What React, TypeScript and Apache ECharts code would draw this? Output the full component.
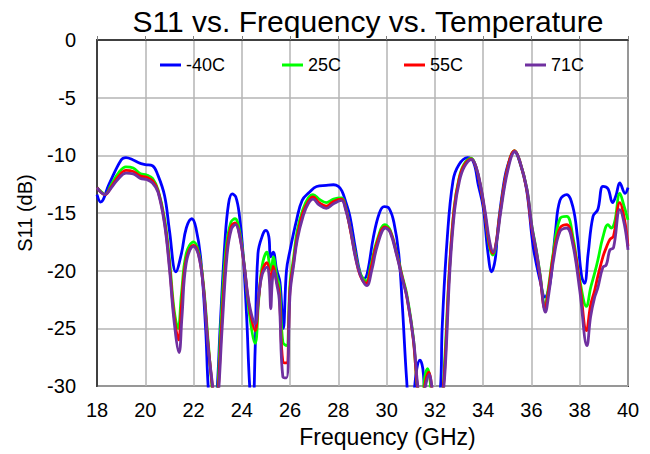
import React, { useEffect, useRef } from "react";
import * as echarts from "echarts";

const seriesNames = ["-40C", "25C", "55C", "71C"];
const seriesColors = ["#0000ff", "#00ff00", "#ff0000", "#7030a0"];
const legendLefts = [155, 277, 399, 520];
const xTicks = [18, 20, 22, 24, 26, 28, 30, 32, 34, 36, 38, 40];

const blueFreq = [18, 18.15, 18.5, 19.0, 19.2, 19.5, 19.8, 20.0, 20.3, 20.5, 20.8, 21.0, 21.27, 21.5, 21.7, 21.93, 22.1, 22.3, 22.5, 22.62, 22.8, 22.97, 23.1, 23.3, 23.45, 23.6, 23.75, 23.9, 24.05, 24.2, 24.34, 24.45, 24.55, 24.67, 24.88, 25.0, 25.12, 25.19, 25.3, 25.44, 25.58, 25.72, 25.85, 26.0, 26.27, 26.5, 26.8, 27.1, 27.5, 27.8, 28.0, 28.15, 28.3, 28.48, 28.7, 28.9, 29.05, 29.2, 29.45, 29.7, 29.9, 30.1, 30.3, 30.5, 30.65, 30.83, 30.95, 31.1, 31.25, 31.38, 31.5, 31.6, 31.8, 32.0, 32.22, 32.3, 32.5, 32.75, 33.0, 33.35, 33.6, 33.8, 34.0, 34.2, 34.35, 34.5, 34.6, 34.8, 35.0, 35.3, 35.5, 35.8, 36.07, 36.35, 36.56, 36.77, 37.0, 37.18, 37.46, 37.72, 37.9, 38.08, 38.2, 38.35, 38.55, 38.75, 38.96, 39.17, 39.36, 39.5, 39.66, 39.88, 40.0];
const blueS11 = [-13.4, -14.05, -12.5, -10.4, -10.2, -10.4, -10.7, -10.8, -10.9, -11.6, -13.5, -16.5, -20.1, -18.5, -16.3, -15.5, -16.3, -19.0, -25, -30.5, -34, -30.5, -25, -17.5, -14.2, -13.35, -13.6, -15.2, -18.5, -24, -30.5, -32, -27, -18.5, -16.8, -16.5, -17.05, -18.8, -18.4, -19.9, -21.0, -25.0, -20, -18.2, -15.6, -13.9, -13.2, -12.7, -12.6, -12.55, -12.7, -13.1, -14, -15.3, -18, -20.2, -20.7, -20.2, -17.1, -15.0, -14.45, -14.6, -15.8, -18.5, -23, -29.5, -32, -31, -28.5, -27.75, -28.5, -31, -33, -33, -30.5, -25, -17.5, -12.2, -10.8, -10.2, -10.6, -12.6, -14.5, -18.5, -20.1, -19, -16.5, -13.2, -11.0, -9.7, -10.5, -13.0, -17.9, -20.8, -22.3, -21.1, -16.5, -13.9, -13.4, -14.5, -17, -20.5, -21.1, -18.5, -15.3, -14.7, -12.7, -12.9, -14.1, -13.5, -12.4, -13.3, -12.8];

const greenFreq = [18, 18.15, 18.33, 18.6, 18.9, 19.2, 19.5, 19.8, 20.06, 20.3, 20.53, 20.8, 21.0, 21.2, 21.36, 21.5, 21.7, 22.0, 22.2, 22.4, 22.6, 22.78, 22.9, 23.0, 23.15, 23.35, 23.55, 23.72, 23.9, 24.1, 24.3, 24.55, 24.7, 24.85, 25.04, 25.15, 25.22, 25.3, 25.45, 25.55, 25.7, 25.85, 26.0, 26.13, 26.3, 26.53, 26.75, 26.95, 27.2, 27.5, 27.8, 28.13, 28.3, 28.48, 28.7, 28.9, 29.15, 29.35, 29.6, 29.93, 30.15, 30.42, 30.65, 30.83, 31.1, 31.3, 31.45, 31.6, 31.7, 31.8, 31.9, 32.1, 32.3, 32.4, 32.6, 32.8, 33.0, 33.2, 33.5, 33.7, 33.9, 34.07, 34.25, 34.4, 34.55, 34.7, 35.0, 35.3, 35.5, 35.8, 36.0, 36.2, 36.35, 36.56, 36.7, 36.9, 37.18, 37.46, 37.72, 38.0, 38.28, 38.45, 38.62, 38.75, 38.96, 39.17, 39.3, 39.45, 39.66, 39.85, 40];
const greenS11 = [-12.8, -13.1, -13.4, -12.5, -11.5, -11.0, -11.1, -11.6, -11.7, -12.0, -13.0, -15.5, -19, -23.5, -25.0, -22, -18.5, -17.5, -18.3, -21, -26, -30.5, -33, -30.5, -24, -18, -15.8, -15.5, -16.5, -19.5, -23.5, -26.3, -22.5, -19.5, -18.4, -19.5, -20, -18.8, -20.5, -21.3, -26.2, -26.5, -21, -19.1, -16.5, -14.7, -13.7, -13.4, -13.8, -14.1, -13.8, -13.7, -14.5, -16.2, -18.5, -20.2, -20.9, -19.5, -17.4, -16.0, -16.5, -18.5, -20.5, -22, -25.7, -30.5, -31, -29, -28.5, -29.5, -32, -33, -31, -28, -20, -14.5, -12, -10.8, -10.25, -11, -12.8, -15.0, -17.8, -18.65, -17.5, -15, -11.2, -9.6, -10.4, -12.8, -15.9, -18.2, -20.2, -23.0, -21.5, -18.5, -15.5, -15.3, -17.1, -20.8, -23.1, -21.5, -20.2, -19.1, -17.1, -16.0, -16.3, -15.75, -13.3, -14.5, -15.6];

const redFreq = [18, 18.33, 18.6, 18.9, 19.2, 19.5, 19.8, 20.06, 20.3, 20.53, 20.8, 21.0, 21.2, 21.38, 21.5, 21.7, 22.0, 22.2, 22.4, 22.6, 22.8, 22.92, 23.02, 23.17, 23.37, 23.55, 23.72, 23.9, 24.1, 24.3, 24.55, 24.7, 24.85, 25.04, 25.15, 25.22, 25.3, 25.45, 25.55, 25.7, 25.85, 26.0, 26.15, 26.3, 26.53, 26.75, 26.95, 27.2, 27.5, 27.8, 28.13, 28.3, 28.48, 28.7, 28.9, 29.15, 29.35, 29.6, 29.93, 30.15, 30.42, 30.65, 30.83, 31.1, 31.3, 31.45, 31.62, 31.75, 31.85, 31.95, 32.1, 32.3, 32.42, 32.6, 32.8, 33.0, 33.2, 33.5, 33.7, 33.9, 34.07, 34.25, 34.4, 34.55, 34.7, 35.0, 35.3, 35.5, 35.8, 36.0, 36.2, 36.35, 36.56, 36.7, 36.9, 37.18, 37.46, 37.72, 38.0, 38.28, 38.45, 38.62, 38.75, 38.96, 39.1, 39.25, 39.4, 39.66, 39.85, 40];
const redS11 = [-12.8, -13.4, -12.7, -11.8, -11.3, -11.4, -11.8, -11.9, -12.2, -13.1, -15.8, -19.5, -24, -26.0, -23, -19, -17.8, -18.5, -21.2, -26.3, -30.5, -33, -30.5, -24.5, -18.4, -16.2, -15.85, -16.8, -19.6, -23, -25.2, -22.3, -20, -19.3, -20.3, -21, -19.6, -21.0, -22, -27.9, -28, -21.5, -19.2, -17, -15, -14, -13.6, -14.1, -14.4, -14.0, -13.8, -14.6, -16.3, -18.7, -20.4, -21.1, -19.8, -17.6, -16.2, -16.6, -18.6, -20.6, -22.2, -25.9, -30.5, -31.5, -29.5, -28.8, -29.8, -32, -33, -31, -28, -20, -14.6, -12.1, -10.9, -10.3, -11, -12.8, -15.0, -17.6, -18.5, -17.4, -15, -11.2, -9.6, -10.4, -12.9, -16.1, -18.4, -20.4, -23.3, -21.8, -18.8, -16.3, -16.0, -17.5, -21.1, -25.2, -23, -21.7, -20.5, -18.8, -18.0, -17.3, -17.0, -14.1, -15.5, -17.9];

const purpleFreq = [18, 18.33, 18.6, 18.9, 19.2, 19.5, 19.8, 20.06, 20.3, 20.53, 20.8, 21.0, 21.2, 21.4, 21.52, 21.7, 22.0, 22.2, 22.4, 22.6, 22.82, 22.94, 23.04, 23.19, 23.39, 23.57, 23.74, 23.9, 24.1, 24.3, 24.55, 24.7, 24.85, 25.04, 25.13, 25.2, 25.26, 25.33, 25.45, 25.55, 25.7, 25.85, 26.0, 26.15, 26.3, 26.55, 26.75, 26.95, 27.2, 27.5, 27.8, 28.13, 28.3, 28.5, 28.7, 28.95, 29.18, 29.38, 29.62, 29.95, 30.15, 30.42, 30.65, 30.85, 31.12, 31.32, 31.47, 31.64, 31.77, 31.87, 31.97, 32.12, 32.32, 32.44, 32.62, 32.82, 33.02, 33.22, 33.52, 33.72, 33.92, 34.09, 34.27, 34.42, 34.57, 34.72, 35.02, 35.32, 35.52, 35.82, 36.02, 36.22, 36.37, 36.58, 36.72, 36.92, 37.18, 37.46, 37.72, 38.0, 38.3, 38.45, 38.62, 38.75, 38.96, 39.1, 39.25, 39.4, 39.66, 39.85, 40];
const purpleS11 = [-12.8, -13.4, -12.8, -12.0, -11.55, -11.6, -12.0, -12.1, -12.4, -13.2, -16, -19.8, -24.5, -27.1, -24, -19.3, -17.9, -18.6, -21.3, -26.5, -30.5, -33, -30.5, -24.8, -18.6, -16.4, -16.0, -16.9, -19.5, -22.8, -24.6, -22.2, -20.3, -19.7, -20.5, -23.3, -21, -20.0, -21.2, -22.5, -29.2, -29.3, -22, -19.5, -17.3, -15.2, -14.2, -13.8, -14.3, -14.6, -14.2, -13.9, -14.7, -16.4, -18.8, -20.6, -21.3, -20.0, -17.8, -16.3, -16.7, -18.7, -20.7, -22.4, -26.1, -30.5, -31.5, -29.7, -29.0, -30.0, -32, -33, -31, -28, -20, -14.7, -12.2, -11.0, -10.35, -11.1, -12.9, -15.0, -17.5, -18.4, -17.3, -15, -11.3, -9.65, -10.5, -13.0, -16.2, -18.5, -20.6, -23.6, -22.0, -19.0, -16.6, -16.3, -17.8, -21.7, -26.5, -24, -22.3, -21.5, -19.7, -19.5, -18.2, -18.0, -14.7, -16.0, -18.2];

const seriesFreqs = [blueFreq, greenFreq, redFreq, purpleFreq];
const seriesValues = [blueS11, greenS11, redS11, purpleS11];

export default function App() {
  const ref = useRef<HTMLDivElement>(null);
  useEffect(() => {
    if (!ref.current) return;
    const chart = echarts.init(ref.current, undefined, { renderer: "svg" });
    const font = "'Liberation Sans', Arial, sans-serif";
    chart.setOption({
      animation: false,
      backgroundColor: "#ffffff",
      title: {
        text: "S11 vs. Frequency vs. Temperature",
        left: 363,
        textAlign: "center",
        top: 1,
        textStyle: { fontFamily: font, fontSize: 30, fontWeight: "normal", color: "#000" },
      },
      legend: seriesNames.map((name, i) => ({
        data: [name],
        left: legendLefts[i],
        top: 51,
        itemWidth: 21,
        itemHeight: 3,
        itemGap: 6,
        icon: "rect",
        textStyle: { fontFamily: font, fontSize: 18, color: "#000" },
      })),
      grid: {
        left: 97,
        right: 22,
        top: 40,
        bottom: 68,
        show: true,
        borderColor: "#404040",
        borderWidth: 2,
        backgroundColor: "transparent",
      },
      xAxis: {
        type: "value",
        min: xTicks[0],
        max: xTicks[xTicks.length - 1],
        interval: 2,
        name: "Frequency (GHz)",
        nameLocation: "middle",
        nameGap: 39,
        nameTextStyle: { fontFamily: font, fontSize: 23, color: "#000", padding: [0, 0, 0, 50] },
        axisLine: { show: true, lineStyle: { color: "#404040", width: 2 } },
        axisTick: { show: true, inside: true, length: 4, lineStyle: { color: "#808080" } },
        axisLabel: { fontFamily: font, fontSize: 20, color: "#000", margin: 14 },
        splitLine: { show: true, lineStyle: { color: "#b4b4b4", width: 1.5 } },
      },
      yAxis: {
        type: "value",
        min: -30,
        max: 0,
        interval: 5,
        name: "S11 (dB)",
        nameLocation: "middle",
        nameGap: 62,
        nameTextStyle: { fontFamily: font, fontSize: 20, color: "#000" },
        axisLine: { show: true, lineStyle: { color: "#404040", width: 2 } },
        axisTick: { show: false },
        axisLabel: { fontFamily: font, fontSize: 20, color: "#000", margin: 21 },
        splitLine: { show: true, lineStyle: { color: "#b4b4b4", width: 1.5 } },
      },
      series: seriesNames.map((name, i) => ({
        name,
        type: "line",
        data: seriesFreqs[i].map((f, j) => [f, seriesValues[i][j]]),
        showSymbol: false,
        symbol: "none",
        smooth: 0.4,
        clip: true,
        lineStyle: { color: seriesColors[i], width: 2.8 },
        itemStyle: { color: seriesColors[i] },
      })),
    });
    return () => chart.dispose();
  }, []);
  return (
    <div
      ref={ref}
      style={{ position: "fixed", left: 0, top: 0, width: 650, height: 454 }}
    />
  );
}
